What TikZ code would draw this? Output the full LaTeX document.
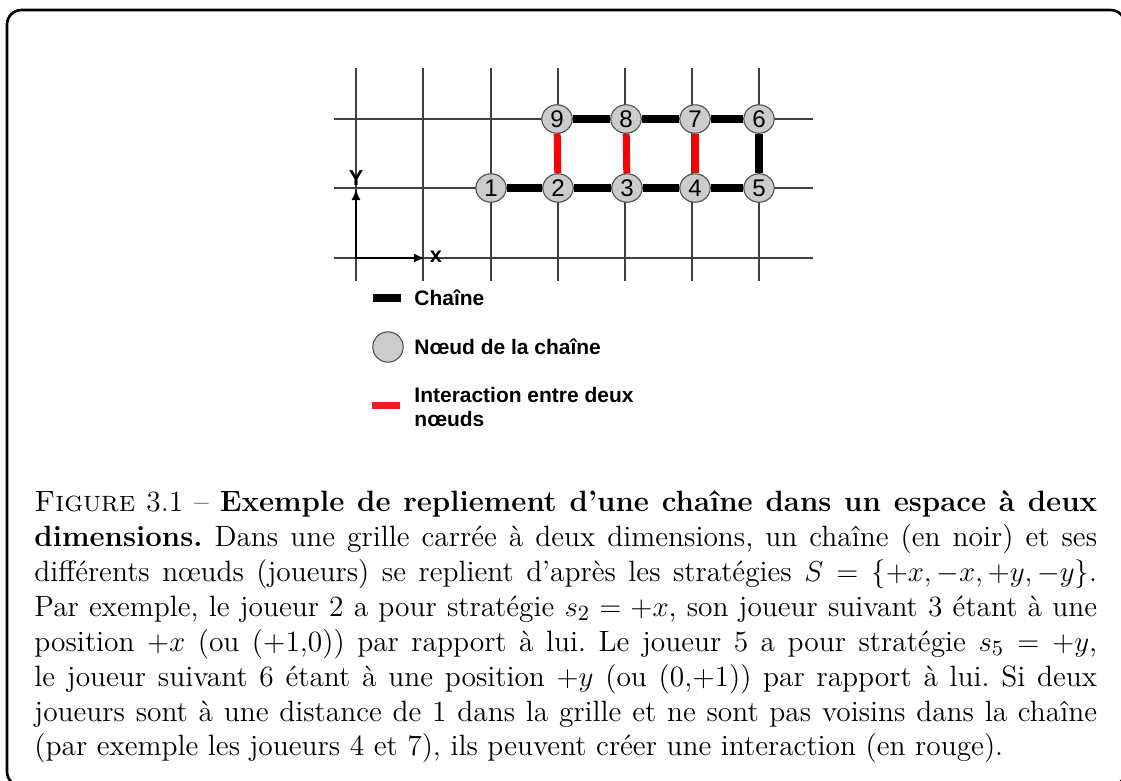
\documentclass[12pt,tikz,border=0pt]{standalone}
\usepackage{fontspec}
\newfontfamily\arial{Liberation Sans}
\usetikzlibrary{arrows.meta,shapes.geometric}
\definecolor{rouge}{HTML}{ED1C24}
\tikzstyle{nj} = [ellipse,draw=black!70,fill=black!20,line width=0.45pt,minimum width=12.6pt,minimum height=11.8pt,inner sep=0pt,font=\arial\fontsize{10}{11}\selectfont]
\tikzstyle{ch} = [line width=3.3pt,black]
\tikzstyle{ir} = [line width=2.9pt,red]
\tikzstyle{gr} = [black!75,line width=0.55pt]
\tikzstyle{lg} = [anchor=west,inner sep=0pt,align=left,font=\arial\bfseries\fontsize{8.7}{10}\selectfont]
\tikzstyle{ax} = [inner sep=0pt,font=\arial\bfseries\fontsize{9}{10}\selectfont]
\tikzstyle{fl} = [line width=0.8pt,-{Latex[length=4.6pt,width=3.8pt]}]

\begin{document}
\begin{tikzpicture}[x=0.415pt,y=-0.415pt]
  \useasboundingbox (0,0) rectangle (1121,780);
  \draw[line width=1.1pt,rounded corners=6pt] (7,10) rectangle (1125,786);
  % grille
  \foreach \x in {356,423,491,558,625,692,759}
    \draw[gr] (\x,68) -- (\x,281);
  \foreach \y in {119,188,258}
    \draw[gr] (334,\y) -- (813,\y);
  % axes
  \coordinate (o) at (356,258);
  \coordinate (ty) at (356,189);
  \coordinate (tx) at (425,258);
  \node[ax] (ly) at (356,178) {Y};
  \node[ax] (lx) at (436,257) {x};
  \draw[fl] (o) -- (ty);
  \draw[fl] (o) -- (tx);
  % noeuds de la chaine
  \node[nj] (n1) at (491,188) {1};
  \node[nj] (n2) at (558,188) {2};
  \node[nj] (n3) at (627,188) {3};
  \node[nj] (n4) at (695,188) {4};
  \node[nj] (n5) at (759,188) {5};
  \node[nj] (n6) at (759,119) {6};
  \node[nj] (n7) at (695,119) {7};
  \node[nj] (n8) at (626,119) {8};
  \node[nj] (n9) at (557,119) {9};
  \draw[ch] (n1) -- (n2);
  \draw[ch] (n2) -- (n3);
  \draw[ch] (n3) -- (n4);
  \draw[ch] (n4) -- (n5);
  \draw[ch] (n5) -- (n6);
  \draw[ch] (n6) -- (n7);
  \draw[ch] (n7) -- (n8);
  \draw[ch] (n8) -- (n9);
  % interactions
  \draw[ir] (n9) -- (n2);
  \draw[ir] (n8) -- (n3);
  \draw[ir] (n7) -- (n4);
  % legende
  \node[fill=black,inner sep=0pt,minimum width=12pt,minimum height=3.3pt] (lc) at (387,298) {};
  \node[lg] (tc) at (414,298) {Chaîne};
  \node[nj,minimum width=12.6pt,minimum height=12.6pt] (ln) at (388,347) {};
  \node[lg] (tn) at (414,347) {Nœud de la chaîne};
  \node[fill=rouge,inner sep=0pt,minimum width=11.6pt,minimum height=2.9pt] (li) at (386,405) {};
  \node[lg] (ti) at (414,407) {Interaction entre deux\\nœuds};
  % legende de la figure
  \node[anchor=north west,inner sep=0pt,text width=441pt,align=justify,font=\fontsize{12.2}{14.5}\selectfont] (cap) at (34,490) {\frenchspacing\hyphenpenalty=10000
    \textsc{Figure} 3.1 -- \textbf{Exemple de repliement d’une chaîne dans un espace à deux\linebreak
    dimensions.} Dans une grille carrée à deux dimensions, un chaîne (en noir) et ses\linebreak
    différents nœuds (joueurs) se replient d’après les stratégies $S=\{+x,-x,+y,-y\}$.\linebreak
    Par exemple, le joueur 2 a pour stratégie $s_2=+x$, son joueur suivant 3 étant à une\linebreak
    position $+x$ (ou (+1,0)) par rapport à lui. Le joueur 5 a pour stratégie $s_5=+y$,\linebreak
    le joueur suivant 6 étant à une position $+y$ (ou (0,+1)) par rapport à lui. Si deux\linebreak
    joueurs sont à une distance de 1 dans la grille et ne sont pas voisins dans la chaîne\linebreak
    (par exemple les joueurs 4 et 7), ils peuvent créer une interaction (en rouge).};
\end{tikzpicture}
\end{document}
